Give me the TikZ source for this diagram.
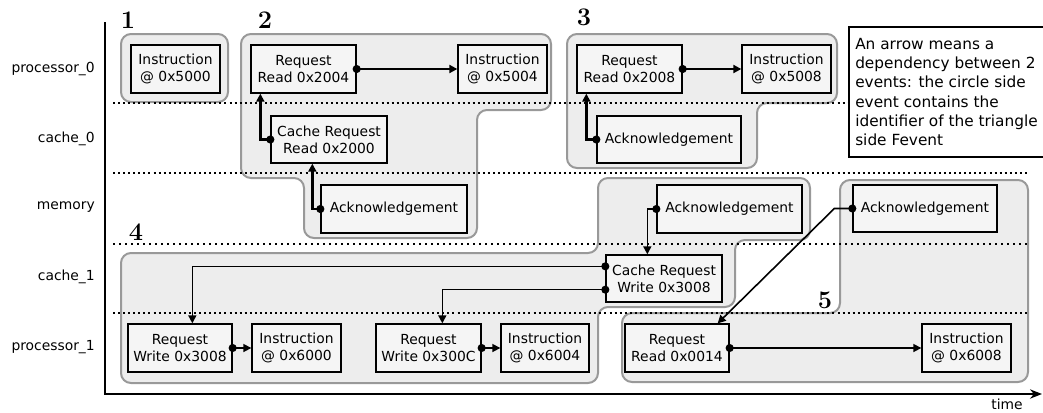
\documentclass[tikz,border=0pt]{standalone}
\usepackage{fontspec}
\newfontfamily\dv{DejaVu Sans}
\usetikzlibrary{arrows.meta,calc}
\tikzset{
  grp/.style={draw=black!40, fill=black!7, line width=1.5pt, rounded corners=7.5pt},
  ev/.style={draw=black, fill=black!4, line width=1pt, inner sep=0pt, align=center,
    font=\dv\fontsize{10.4}{12.7}\selectfont},
  dep/.style={line width=1.2pt, {Circle[length=6pt]}-{Triangle[length=6pt,width=6pt]}, shorten <=-3pt},
  depthick/.style={dep, line width=1.8pt},
  lane/.style={anchor=east, inner sep=0pt, font=\dv\fontsize{10.4}{12.7}\selectfont},
  num/.style={inner sep=0pt, font=\fontsize{19}{20}\selectfont\bfseries},
  sepline/.style={line width=0.9pt, dash pattern=on 1.5pt off 2.3pt},
  septhick/.style={line width=1.6pt, dash pattern=on 1.6pt off 2.9pt},
}
\newcommand\evbox[6]{\node[ev, minimum width={(#4-#2)*0.75pt}, minimum height={(#5-#3)*0.75pt}] (#1) at ({(#2+#4)/2},{(#3+#5)/2}) {#6};}
\begin{document}
\begin{tikzpicture}[x=0.75pt,y=-0.75pt]
\useasboundingbox (0,0) rectangle (1043,412);
% groups
\draw[grp] (121,34) rectangle (228,102);
\draw[grp] (241,34) -- (551,34) -- (551,110) -- (477,110) -- (477,238) -- (304,238) -- (304,178) -- (241,178) -- cycle;
\draw[grp] (567,34) -- (837,34) -- (837,103) -- (757,103) -- (757,168) -- (567,168) -- cycle;
\draw[grp] (121,253) -- (598,253) -- (598,178) -- (810,178) -- (810,240) -- (735,240) -- (735,307) -- (598,307) -- (598,383) -- (121,383) -- cycle;
\draw[grp] (840,180) -- (1028,180) -- (1028,382) -- (622,382) -- (622,313) -- (840,313) -- cycle;
% lane separators
\draw[sepline] (113,103) -- (849,103);
\draw[sepline] (113,173) -- (1028,173);
\draw[septhick] (113,244) -- (1028,244);
\draw[sepline] (113,313) -- (1028,313);
% axes
\coordinate (top) at (105,22);
\coordinate (end) at (1042,394);
\draw[line width=1.2pt, -{Stealth[length=9pt,width=7pt]}] (top) |- (end);
\node[inner sep=0pt, font=\dv\fontsize{10.4}{12.7}\selectfont] (time) at (1007,404) {time};
% lane labels
\node[lane] (l1) at (95,69) {processor\_0};
\node[lane] (l2) at (95,139) {cache\_0};
\node[lane] (l3) at (95,207) {memory};
\node[lane] (l4) at (95,277) {cache\_1};
\node[lane] (l5) at (95,347) {processor\_1};
% group numbers
\node[num] (n1) at (128,20) {1};
\node[num] (n2) at (265,20) {2};
\node[num] (n3) at (584,17) {3};
\node[num] (n4) at (136,232) {4};
\node[num] (n5) at (825,300) {5};
% legend
\node[draw, line width=1pt, fill=white, inner sep=0pt, minimum width={195*0.75pt}, minimum height={130*0.75pt},
  align=left, font=\dv\fontsize{11.5}{14.3}\selectfont] (legend) at (946.5,92)
  {An arrow means a\\dependency between 2\\events: the circle side\\event contains the\\identifier of the triangle\\side Fevent};
% events
\evbox{in0}{131}{45}{220}{93}{Instruction\\@ 0x5000}
\evbox{rq0}{251}{45}{356}{93}{Request\\Read 0x2004}
\evbox{in1}{458}{45}{547}{93}{Instruction\\@ 0x5004}
\evbox{cr0}{271}{116}{387}{163}{Cache Request\\Read 0x2000}
\evbox{ack0}{321}{185}{467}{233}{Acknowledgement}
\evbox{rq2}{577}{45}{682}{93}{Request\\Read 0x2008}
\evbox{in2}{742}{45}{831}{93}{Instruction\\@ 0x5008}
\evbox{ack2}{597}{116}{741}{163}{Acknowledgement}
\evbox{ackm}{657}{185}{802}{233}{Acknowledgement}
\evbox{crw}{606}{255}{722}{302}{Cache Request\\Write 0x3008}
\evbox{rw1}{128}{324}{232}{372}{Request\\Write 0x3008}
\evbox{in3}{252}{324}{341}{372}{Instruction\\@ 0x6000}
\evbox{rw2}{376}{324}{481}{372}{Request\\Write 0x300C}
\evbox{in4}{501}{324}{589}{372}{Instruction\\@ 0x6004}
\evbox{ack5}{853}{185}{997}{232}{Acknowledgement}
\evbox{rr}{625}{324}{729}{372}{Request\\Read 0x0014}
\evbox{in5}{922}{324}{1011}{372}{Instruction\\@ 0x6008}
% dependencies
\draw[depthick] (rq0.east) -- (in1.west);
\draw[depthick] (cr0.west) -| ($(rq0.south west)+(10,0)$);
\draw[depthick] (ack0.west) -| ($(cr0.south west)+(42,0)$);
\draw[depthick] (rq2.east) -- (in2.west);
\draw[depthick] (ack2.west) -| ($(rq2.south west)+(10,0)$);
\draw[dep] (ackm.west) -| ($(crw.north west)+(42,0)$);
\draw[dep] ($(crw.north west)+(0,12)$) -| ($(rw1.north west)+(65,0)$);
\draw[dep] ($(crw.south west)+(0,-13)$) -| ($(rw2.north west)+(67,0)$);
\draw[dep] (rw1.east) -- (in3.west);
\draw[dep] (rw2.east) -- (in4.west);
\draw[dep] (ack5.west) -- ++(-18,0) -- ($(rr.north east)+(-12,0)$);
\draw[dep] (rr.east) -- (in5.west);
\end{tikzpicture}
\end{document}
